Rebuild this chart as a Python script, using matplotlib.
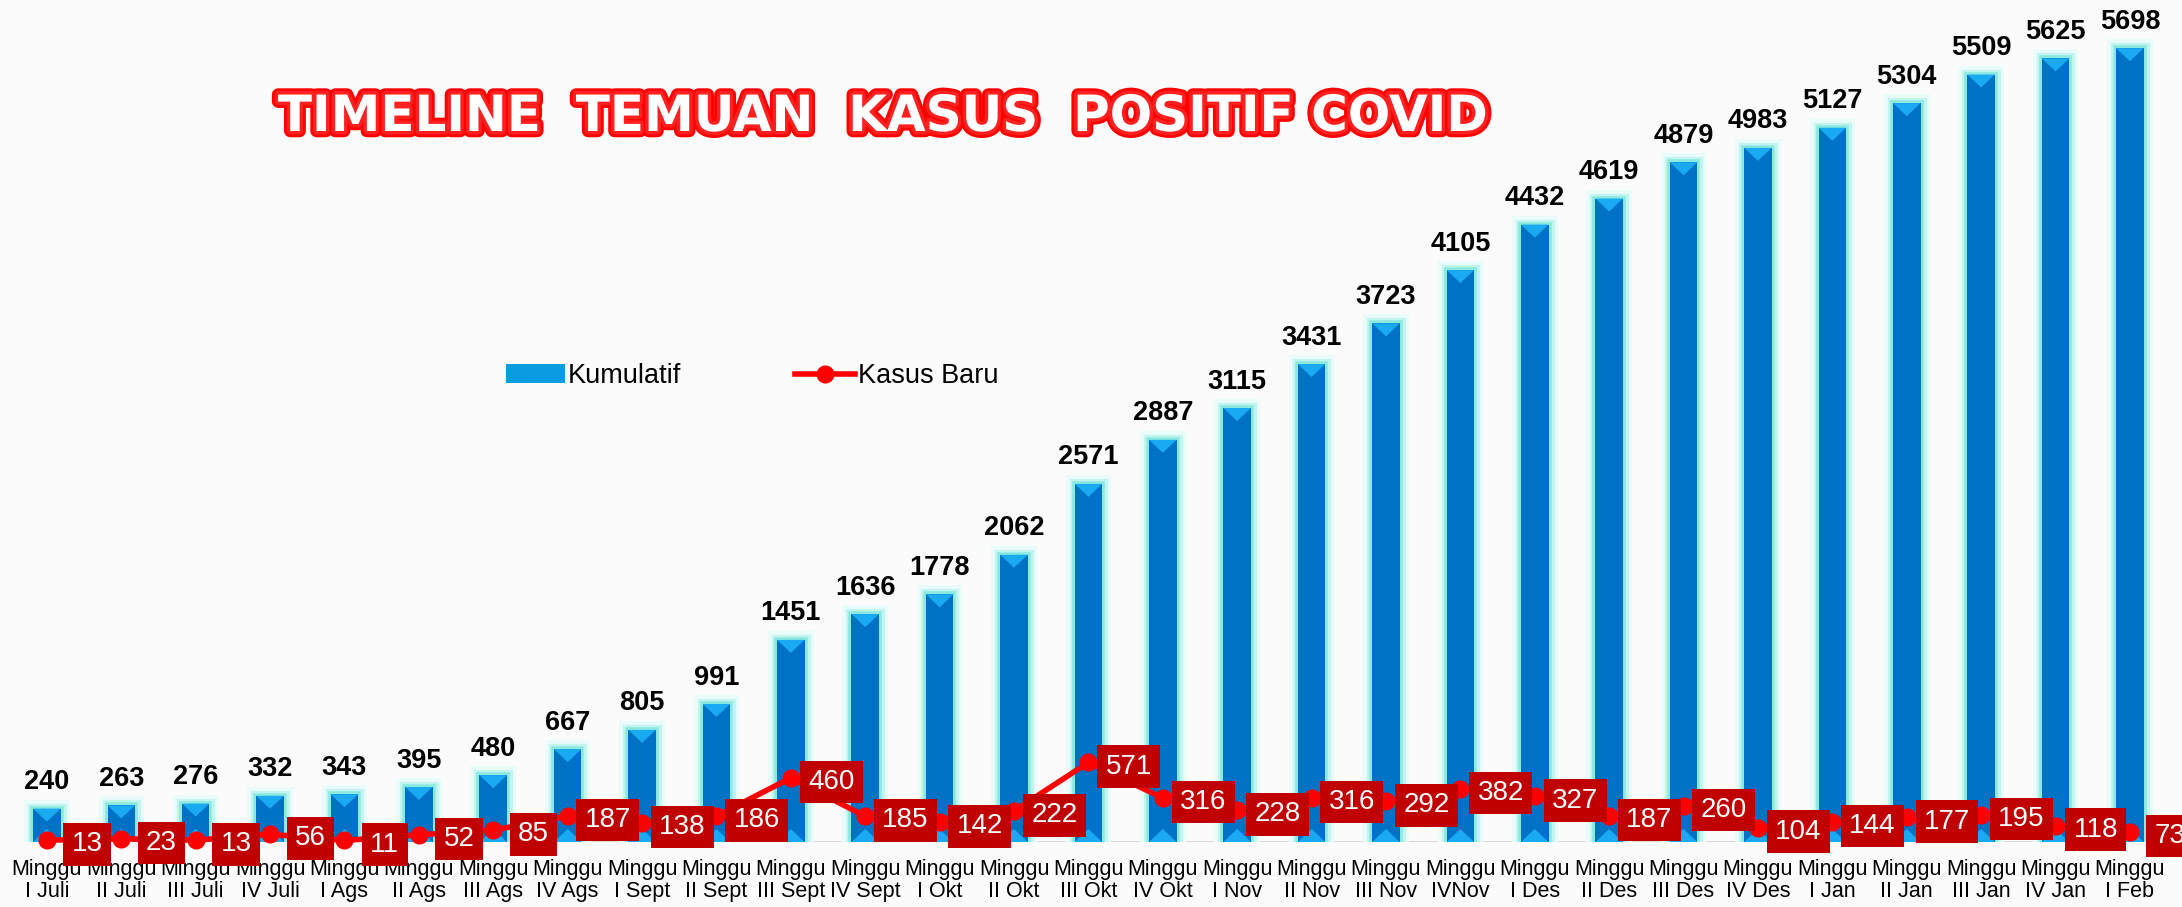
import matplotlib
matplotlib.use("Agg")
import matplotlib.pyplot as plt
import matplotlib.patheffects as pe
from matplotlib.patches import Polygon, Patch
from matplotlib.lines import Line2D
import numpy as np

# data
minggu = ["I Juli", "II Juli", "III Juli", "IV Juli", "I Ags", "II Ags", "III Ags", "IV Ags",
          "I Sept", "II Sept", "III Sept", "IV Sept", "I Okt", "II Okt", "III Okt", "IV Okt",
          "I Nov", "II Nov", "III Nov", "IVNov", "I Des", "II Des", "III Des", "IV Des",
          "I Jan", "II Jan", "III Jan", "IV Jan", "I Feb"]
kumulatif = [240, 263, 276, 332, 343, 395, 480, 667, 805, 991, 1451, 1636, 1778, 2062, 2571,
             2887, 3115, 3431, 3723, 4105, 4432, 4619, 4879, 4983, 5127, 5304, 5509, 5625, 5698]
kasus_baru = [13, 23, 13, 56, 11, 52, 85, 187, 138, 186, 460, 185, 142, 222, 571, 316, 228,
              316, 292, 382, 327, 187, 260, 104, 144, 177, 195, 118, 73]
labels = ["Minggu\n" + m for m in minggu]

plt.rcParams["font.family"] = ["Liberation Sans", "DejaVu Sans"]

W, H, DPI = 2182, 907, 100
fig = plt.figure(figsize=(W / DPI, H / DPI), dpi=DPI, facecolor="#fbfbfb")
ax_h = 842 / H
ax = fig.add_axes([0, 65 / H, 1, ax_h])
ax.set_facecolor("none")
ymax = 6044
ax.set_xlim(-0.63, 28.7)
ax.set_ylim(0, ymax)
for s in ax.spines.values():
    s.set_visible(False)
ax.set_yticks([])

x = np.arange(len(minggu))
bw = 0.37

# batang kumulatif dengan efek glow
bars = ax.bar(x, kumulatif, width=bw, color="#0072c6", zorder=2)
for b in bars:
    b.set_path_effects([pe.Stroke(linewidth=13, foreground="#e9fcfa"),
                        pe.Stroke(linewidth=8, foreground="#c2f5ef"),
                        pe.Stroke(linewidth=4, foreground="#8de9df"),
                        pe.Normal()])

# segitiga terang di atas dan bawah batang
px_per_unit = (ax_h * H) / ymax
th = 13 / px_per_unit
for xi, v in zip(x, kumulatif):
    l, r = xi - bw / 2, xi + bw / 2
    ax.add_patch(Polygon([(l, v), (r, v), (xi, v - th)], closed=True,
                         facecolor="#1aaaf2", edgecolor="none", zorder=3))
    ax.add_patch(Polygon([(l, 0), (r, 0), (xi, th)], closed=True,
                         facecolor="#1aaaf2", edgecolor="none", zorder=3))
    ax.annotate(str(v), (xi, v), xytext=(0, 19), textcoords="offset points",
                ha="center", va="center", fontsize=19.5, fontweight="bold",
                color="black", zorder=5)

# garis dasar
ax.axhline(0, color="#d4d4d4", lw=2, zorder=1, xmin=0.013)

# garis kasus baru
ax.plot(x, kasus_baru, color="#ff0000", lw=4, marker="o", markersize=12,
        zorder=6, clip_on=False)
for xi, v in zip(x, kasus_baru):
    ax.annotate(str(v), (xi, v), xytext=(29, -3), textcoords="offset points",
                ha="center", va="center", fontsize=20, color="white", zorder=7,
                annotation_clip=False,
                bbox=dict(boxstyle="square,pad=0.3", facecolor="#c00000", edgecolor="none"))

ax.set_xticks(x)
ax.set_xticklabels(labels, fontsize=15.5, linespacing=1.08,
                   family=["Liberation Sans Narrow", "Liberation Sans", "DejaVu Sans"])
ax.tick_params(axis="x", length=0, pad=12)

# legenda
handles = [Patch(facecolor="#0a9be0", edgecolor="none"),
           Line2D([0], [0], color="#ff0000", lw=4, marker="o", markersize=12)]
fig.legend(handles, ["Kumulatif", "Kasus Baru"], loc="center",
           bbox_to_anchor=(752 / W, 1 - 376 / H), ncol=2, frameon=False,
           handlelength=2.2, handletextpad=0.1, columnspacing=4.2,
           prop={"size": 19.5})

# judul
fig.text(883 / W, 1 - 117 / H, "TIMELINE  TEMUAN  KASUS  POSITIF COVID",
         ha="center", va="center", fontsize=36, fontweight="heavy",
         family=["DejaVu Sans"], color="white",
         path_effects=[pe.Stroke(linewidth=9, foreground="#ff0000"),
                       pe.Stroke(linewidth=5, foreground="#ff2020"), pe.Normal()])

fig.savefig("out.png", dpi=DPI, facecolor=fig.get_facecolor())
